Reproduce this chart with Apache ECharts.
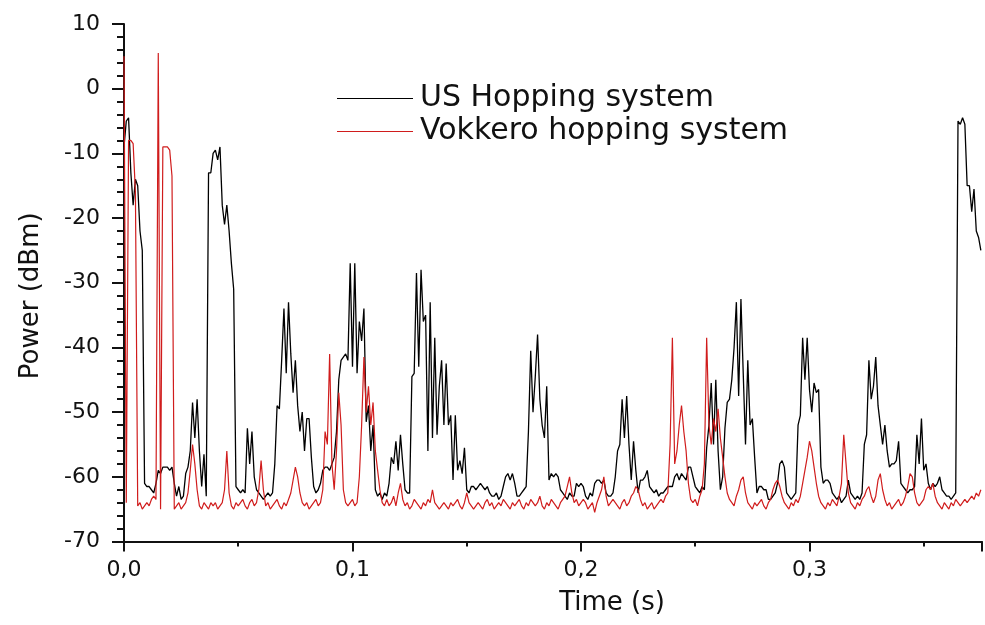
<!DOCTYPE html>
<html>
<head>
<meta charset="utf-8">
<script src="https://cdn.jsdelivr.net/npm/echarts@6/dist/echarts.min.js"></script>
<style>
  html, body { margin: 0; padding: 0; background: #fff; }
  #chart { width: 985px; height: 625px; }
</style>
</head>
<body>
<div id="chart"></div>
<script>
// Sampling interval of both traces (s)
const dt = 0.001;

// US Hopping system (dBm), one value per ms
const usHopping = [
  -9, -5, -4.5, -13, -18, -14, -15, -22, -25, -61,
  -61.5, -61.5, -62, -62.5, -61, -59, -59.5, -58.5, -58.5, -58.5,
  -59, -58.5, -61, -63, -61.5, -63.5, -63, -59.5, -58.5, -56,
  -48.5, -54, -48, -56, -61.5, -56.5, -63, -13, -13, -10,
  -9.5, -11, -9, -18, -21, -18, -22, -27, -31, -61.5,
  -62, -62.5, -62, -62.5, -52.5, -58, -53, -60, -62, -62.5,
  -63, -63.5, -63, -62.5, -63, -62.5, -58, -49, -49.5, -42,
  -34, -44, -33, -41, -47, -42, -49, -53, -50, -56,
  -51, -51, -57, -61.5, -62.5, -62, -61, -59, -58.5, -58.5,
  -59, -58, -57, -53, -45, -42, -41.5, -41, -42, -27,
  -43, -27, -44, -36, -39, -34, -51.5, -49, -56, -52,
  -62, -63, -62.5, -63.5, -62.5, -63, -61, -57, -58, -54.5,
  -59, -53.5, -58, -62, -62.5, -62.5, -44.5, -44, -28.5, -43,
  -28, -36, -35, -56, -33, -54, -38.5, -53.5, -46, -42,
  -52, -42.5, -52, -50.5, -60.5, -50.5, -59, -57.5, -59.5, -55.5,
  -62, -62.5, -61.5, -61.5, -62, -61.5, -61, -61.5, -62, -61.5,
  -62.5, -63, -63, -62.5, -63.5, -63, -61.5, -60, -59.5, -60.5,
  -59.5, -61, -63, -63, -62.5, -62, -61.5, -53, -40.5, -50,
  -44.5, -38, -48, -52, -54, -46, -60.5, -59.5, -60, -59.5,
  -60, -62, -62.5, -63, -63.5, -62.5, -63, -63, -61, -61.5,
  -61, -61.5, -63, -63.5, -62.5, -63, -61, -60.5, -60.5, -61,
  -60.5, -62.5, -63, -63, -62.5, -60, -56, -55, -48, -54,
  -47.5, -55, -60.5, -54.5, -59, -62.5, -60.5, -60.5, -60, -59,
  -61.5, -62, -62.5, -62, -63, -62.5, -62.5, -62, -61.5, -61.5,
  -61.5, -60, -59.5, -60.5, -59.5, -60, -60.5, -58.5, -58.5, -60,
  -61.5, -62, -62.5, -61.5, -62, -55.5, -52, -45.5, -55, -45,
  -56, -62, -60, -52.5, -48.5, -48, -45, -40, -33, -47.5,
  -32.5, -44, -55, -42, -52, -51, -57, -62.5, -61.5, -61.5,
  -62, -62, -63.5, -63.5, -63, -62.5, -61, -58, -57.5, -58.5,
  -62.5, -63, -63.5, -63, -62.5, -52, -50.5, -38.5, -45, -38.5,
  -46.5, -50, -45.5, -47, -46.5, -58.5, -61, -60.5, -60.5, -61,
  -62.5, -63, -63.5, -63, -64, -63.5, -63, -60.5, -62.5, -63,
  -63.5, -63, -63.5, -62.5, -55, -53.5, -42, -48, -46, -41.5,
  -49, -52, -55, -52, -56, -58.5, -58, -58, -57.5, -54.5,
  -61, -61.5, -62, -62.5, -62, -62, -61.5, -53.5, -58, -51,
  -59, -58, -61, -62, -61, -61.5, -61, -60, -62, -62.5,
  -63, -63, -63.5, -63, -62.5, -5, -5.5, -4.5, -5.5, -15,
  -15, -19, -15.5, -22, -23, -25
];

// Vokkero hopping system (dBm), one value per ms
const vokkero = [
  5, -64, -8, -8, -8.5, -16, -64.5, -64, -65, -64.5,
  -64, -64.5, -63.5, -63, -63.5, 5.5, -65, -9, -9, -9,
  -9.5, -13.5, -65, -64.5, -64, -65, -64.5, -64, -62.5, -59,
  -55, -58, -62, -64.5, -65, -64, -64.5, -65, -64, -64.5,
  -64, -65, -64.5, -64, -62, -56, -62.5, -64.5, -65, -64,
  -64.5, -64, -63.5, -64.5, -65, -64, -63.5, -64.5, -64, -62,
  -57.5, -62, -64.5, -64, -65, -64.5, -64, -63.5, -64.5, -65,
  -64, -64.5, -63.5, -62.5, -60.5, -58.5, -60, -62.5, -64, -64.5,
  -64, -65, -64.5, -64, -63.5, -64.5, -64, -62, -53, -55,
  -41, -58, -62, -56, -47, -52, -62, -64, -64.5, -64,
  -63.5, -64.5, -64, -60, -52, -41.5, -50, -46, -52, -48.5,
  -56, -59, -62, -64, -64.5, -63.5, -64.5, -64, -63, -64.5,
  -62.5, -61, -63.5, -64.5, -64, -65, -64.5, -63.5, -64, -64.5,
  -65, -64, -64.5, -63.5, -64, -62, -64, -64.5, -65, -64.5,
  -64, -64.5, -65, -64, -64.5, -64, -63.5, -64.5, -65, -64,
  -62.5, -64, -64.5, -65, -64.5, -64, -64.5, -65, -64, -63.5,
  -64.5, -64, -65, -64.5, -64, -64.5, -63.5, -64, -64.5, -65,
  -64, -64.5, -64, -63.5, -64.5, -65, -64, -64.5, -63.5, -64,
  -64.5, -64, -63, -64.5, -65, -64, -64.5, -63.5, -64, -64.5,
  -65, -64, -63.5, -63, -61.5, -60, -62.5, -64, -63.5, -64.5,
  -64, -63.5, -64, -65, -64.5, -64, -65.5, -64, -63, -62,
  -60, -63, -64.5, -64, -63.5, -64, -64.5, -65, -64, -63.5,
  -64.5, -64, -63, -62.5, -61.5, -62, -63.5, -64.5, -64, -65,
  -64.5, -64, -65, -64.5, -64, -63.5, -64, -63, -62.5, -55,
  -38.5, -58, -56, -52, -49, -53, -56, -61, -63.5, -64,
  -63.5, -64.5, -63, -62, -58, -38.5, -52, -55, -51, -53,
  -49.5, -54, -57, -60, -62.5, -63.5, -64, -64.5, -63, -62,
  -60.5, -60, -62.5, -64, -64.5, -65, -64, -64.5, -64, -63.5,
  -64.5, -65, -64, -63.5, -62, -61, -60.5, -61.5, -63, -64,
  -64.5, -65, -64, -64.5, -63.5, -64, -63, -61, -59, -57,
  -54.5, -56, -58.5, -61, -63, -64, -64.5, -65, -64, -64.5,
  -63.5, -64, -64.5, -63, -61, -53.5, -58, -62.5, -64, -64.5,
  -65, -64, -64.5, -63.5, -63, -62, -61.5, -63, -64, -63,
  -60.5, -59.5, -62, -63.5, -64.5, -64, -65, -64.5, -64, -63.5,
  -64.5, -64, -63, -61.5, -59.5, -60, -62.5, -64, -64.5, -64,
  -63.5, -62, -61.5, -62, -61, -63, -64, -64.5, -65, -64,
  -64.5, -65, -64, -64.5, -63.5, -64, -64.5, -64, -63.5, -64,
  -63.5, -63, -63.5, -62.5, -63, -62
];

const seriesNames = ['US Hopping system', 'Vokkero hopping system'];
const xTickLabels = ['0,0', '0,1', '0,2', '0,3'];
const yTickLabels = ['-70', '-60', '-50', '-40', '-30', '-20', '-10', '0', '10'];

const FONT = 'DejaVu Sans';
const toPairs = arr => arr.map((v, i) => [Number((i * dt).toFixed(3)), v]);

const chart = echarts.init(document.getElementById('chart'), null, { renderer: 'canvas' });

function xLabel(v) {
  const k = Math.round(v * 10);
  if (Math.abs(v * 10 - k) > 1e-6) return '';
  return xTickLabels[k] || '';
}
function yLabel(v) {
  const k = Math.round((v + 70) / 10);
  return yTickLabels[k] !== undefined ? yTickLabels[k] : '';
}

const option = {
  animation: false,
  backgroundColor: '#ffffff',
  grid: { left: 124, right: 0, top: 24, bottom: 83.5, containLabel: false },
  legend: {
    orient: 'vertical',
    left: 332,
    top: 77,
    itemWidth: 76,
    itemHeight: 1.2,
    itemGap: 0,
    icon: 'rect',
    textStyle: { fontFamily: FONT, fontSize: 30, color: '#111', lineHeight: 33, padding: [0, 0, 0, 2] },
    data: seriesNames
  },
  xAxis: [
    {
      type: 'value', min: 0, max: 0.3755, interval: 0.1,
      name: 'Time (s)', nameLocation: 'middle', nameGap: 49,
      nameTextStyle: { fontFamily: FONT, fontSize: 26, color: '#111', padding: [0, 0, 0, 118] },
      axisLine: { show: true, onZero: false, lineStyle: { color: '#111', width: 2 } },
      axisTick: { show: true, length: 10, lineStyle: { color: '#111', width: 2 } },
      axisLabel: { formatter: xLabel, fontFamily: FONT, fontSize: 22, color: '#111', margin: 18 },
      splitLine: { show: false }
    },
    {
      type: 'value', min: 0, max: 0.3755, interval: 0.05, position: 'bottom',
      axisLine: { show: false, onZero: false },
      axisTick: { show: true, length: 5, lineStyle: { color: '#111', width: 2 } },
      axisLabel: { show: false },
      splitLine: { show: false }
    }
  ],
  yAxis: {
    type: 'value', min: -70, max: 10, interval: 10,
    name: 'Power (dBm)', nameLocation: 'middle', nameGap: 80,
    nameTextStyle: { fontFamily: FONT, fontSize: 26, color: '#111', padding: [0, 26, 0, 0] },
    axisLine: { show: true, onZero: false, lineStyle: { color: '#111', width: 2 } },
    axisTick: { show: true, length: 12, lineStyle: { color: '#111', width: 2 } },
    minorTick: { show: true, splitNumber: 5, length: 7, lineStyle: { color: '#111', width: 2 } },
    axisLabel: { formatter: yLabel, fontFamily: FONT, fontSize: 22, color: '#111', margin: 24 },
    splitLine: { show: false }
  },
  series: [
    {
      name: seriesNames[0], type: 'line', data: toPairs(usHopping),
      showSymbol: false, symbol: 'none', color: '#000000',
      lineStyle: { width: 1.3, color: '#000000' }, z: 2
    },
    {
      name: seriesNames[1], type: 'line', data: toPairs(vokkero),
      showSymbol: false, symbol: 'none', color: '#d01c1c',
      lineStyle: { width: 1.2, color: '#d01c1c' }, z: 3
    }
  ]
};
chart.setOption(option);
</script>
</body>
</html>
